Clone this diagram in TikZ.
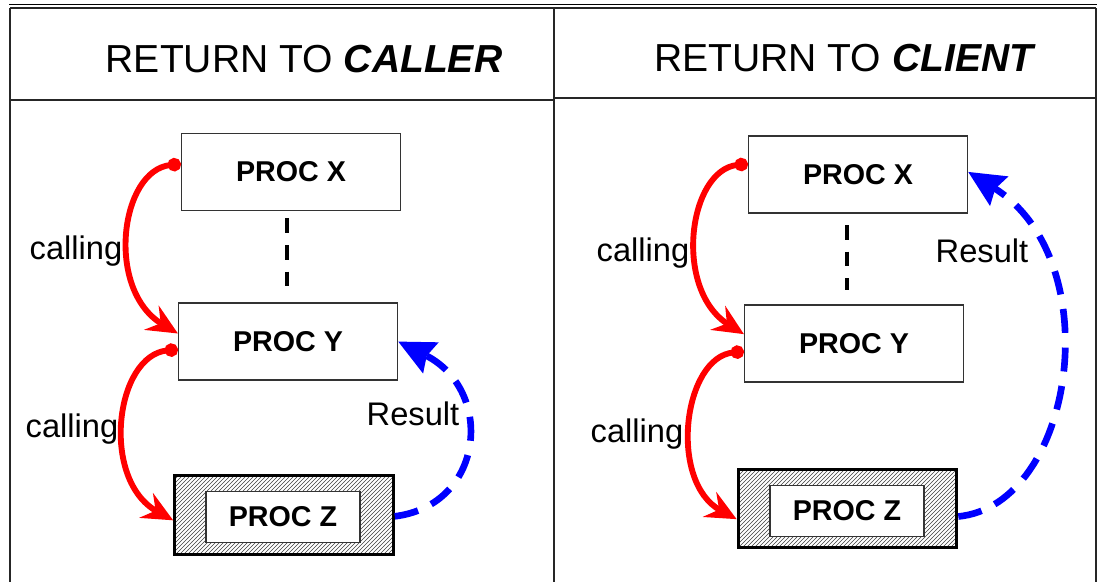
\documentclass[tikz,border=0pt]{standalone}
\usepackage{fontspec}
\setmainfont{Liberation Sans}
\usetikzlibrary{arrows.meta,patterns}

\begin{document}
\begin{tikzpicture}[x=0.75pt,y=-0.75pt,
  every text node part/.style={align=center},
  proc/.style={draw=black!80, line width=1.1pt, fill=white, minimum width=164pt,
    minimum height=58pt, font=\fontsize{21.5}{26}\selectfont\bfseries},
  hatched/.style={draw=black, line width=2.2pt, pattern=north east lines,
    pattern color=black!75, minimum width=164pt, minimum height=59pt},
  inner/.style={proc, minimum width=115.5pt, minimum height=38pt},
  title/.style={anchor=base, font=\fontsize{29.3}{35}\selectfont},
  lbl/.style={anchor=base, font=\fontsize{24.5}{29}\selectfont},
  call/.style={draw=red, line width=4.4pt,
    {Circle[length=10pt]}-{Stealth[length=23pt,width=21pt,inset=8pt]}},
  result/.style={draw=blue, line width=5pt, dash pattern=on 18pt off 11pt,
    -{Stealth[length=27pt,width=25pt,inset=3pt]}},
  link/.style={draw=black, line width=3pt, dash pattern=on 11pt off 9pt},
  frame/.style={draw=black!85, line width=1.3pt}]
\useasboundingbox (0,0) rectangle (1097,582);

% table frame
\draw[black, line width=1.1pt] (9,4.5) -- (1097,4.5);
\draw[frame] (10,8) -- (1096,8);
\draw[frame] (10,8) -- (10,582);
\draw[frame] (554,8) -- (554,582);
\draw[frame] (1096,8) -- (1096,582);
\draw[frame] (10,100) -- (554,100);
\draw[frame] (554,98) -- (1096,98);

% titles
\node[title] (tL) at (304,72) {RETURN TO \textbf{\textit{CALLER}}};
\node[title] (tR) at (845,71) {RETURN TO \textbf{\textit{CLIENT}}};

% left: return to caller
\node[proc] (xL) at (291,172) {PROC X};
\node[proc] (yL) at (288,341.5) {PROC Y};
\node[hatched] (zL) at (284,515) {};
\node[inner] (zLin) at (283,517) {PROC Z};
\draw[link] (xL.south) ++(-4,7) -- (287,290);
\draw[call] ([yshift=6pt]xL.west) .. controls (120,170) and (105,290) .. ([yshift=6pt]yL.west);
\draw[call] ([yshift=-6pt]yL.west) .. controls (115,355) and (100,480) .. ([yshift=-4pt]zL.west);
\draw[result] ([yshift=-1pt]zL.east) .. controls (485,505) and (495,390) .. (yL.east);
\node[lbl] (cL1) at (76,259) {calling};
\node[lbl] (cL2) at (72,437) {calling};
\node[lbl] (rL) at (413,425) {Result};

% right: return to client
\node[proc] (xR) at (858,174.5) {PROC X};
\node[proc] (yR) at (854,343.5) {PROC Y};
\node[hatched] (zR) at (847.5,508.5) {};
\node[inner] (zRin) at (847,511) {PROC Z};
\draw[link] (847,225) -- (847,290);
\draw[call] ([yshift=8pt]xR.west) .. controls (688,170) and (673,290) .. ([yshift=7pt]yR.west);
\draw[call] ([yshift=-6pt]yR.west) .. controls (683,357) and (668,482) .. ([yshift=-8pt]zR.west);
\draw[result] ([yshift=-6pt]zR.east) .. controls (1075,505) and (1110,260) .. ([yshift=2pt]xR.east);
\node[lbl] (cR1) at (643,261) {calling};
\node[lbl] (cR2) at (637,442) {calling};
\node[lbl] (rR) at (982,262) {Result};
\end{tikzpicture}
\end{document}
